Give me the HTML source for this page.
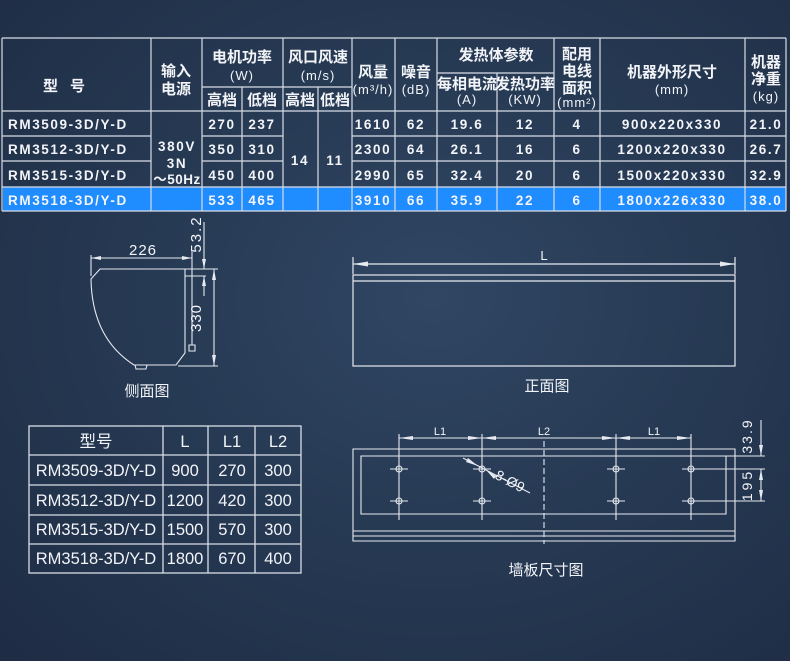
<!DOCTYPE html>
<html><head><meta charset="utf-8"><style>
html,body{margin:0;padding:0;width:790px;height:661px;overflow:hidden;
background:radial-gradient(ellipse at 55% 45%,#304663 0%,#273a54 45%,#1e2c44 100%);}
svg{display:block}
text{font-family:"Liberation Sans","Noto Sans CJK SC",sans-serif;fill:#f2f4f8}
.t{font-size:13.5px;letter-spacing:1.6px;font-weight:bold}
.h{font-size:15px;font-weight:bold}
.s{font-size:13px;letter-spacing:1px}
.l{font-size:16.5px}
.c{font-size:15px}
</style></head><body>
<svg width="790" height="661" viewBox="0 0 790 661" xmlns="http://www.w3.org/2000/svg">
<rect x="3" y="187" width="783" height="24" fill="#1f8cff"/>
<g stroke="#d8dde6" stroke-width="1.2" fill="none">
<line x1="2" y1="38" x2="786" y2="38"/>
<line x1="2" y1="38" x2="2" y2="211"/>
<line x1="786" y1="38" x2="786" y2="211"/>
<line x1="2" y1="211" x2="786" y2="211"/>
<line x1="2" y1="111" x2="786" y2="111"/>
<line x1="202" y1="87" x2="352" y2="87"/>
<line x1="437" y1="73" x2="554" y2="73"/>
<line x1="2" y1="136" x2="151" y2="136"/><line x1="202" y1="136" x2="283" y2="136"/><line x1="352" y1="136" x2="786" y2="136"/>
<line x1="2" y1="161" x2="151" y2="161"/><line x1="202" y1="161" x2="283" y2="161"/><line x1="352" y1="161" x2="786" y2="161"/>
<line x1="2" y1="187" x2="786" y2="187"/>
<line x1="151" y1="38" x2="151" y2="211"/>
<line x1="202" y1="38" x2="202" y2="211"/>
<line x1="242" y1="87" x2="242" y2="211"/>
<line x1="283" y1="38" x2="283" y2="211"/>
<line x1="318" y1="87" x2="318" y2="211"/>
<line x1="352" y1="38" x2="352" y2="211"/>
<line x1="395" y1="38" x2="395" y2="211"/>
<line x1="437" y1="38" x2="437" y2="211"/>
<line x1="497" y1="73" x2="497" y2="211"/>
<line x1="554" y1="38" x2="554" y2="211"/>
<line x1="600" y1="38" x2="600" y2="211"/>
<line x1="745" y1="38" x2="745" y2="211"/>
</g>
<g text-anchor="middle">
<text class="h" x="70" y="91" letter-spacing="12">型号</text>
<text class="h" x="176" y="76">输入</text><text class="h" x="176" y="94">电源</text>
<text class="h" x="242" y="62">电机功率</text><text class="s" x="242" y="80">(W)</text>
<text class="h" x="318" y="62">风口风速</text><text class="s" x="318" y="80">(m/s)</text>
<text class="h" x="373" y="77">风量</text><text class="s" x="373" y="94" letter-spacing="0">(m³/h)</text>
<text class="h" x="416" y="77">噪音</text><text class="s" x="416" y="94" letter-spacing="0">(dB)</text>
<text class="h" x="496" y="60">发热体参数</text>
<text class="h" x="467" y="89" font-size="14">每相电流</text><text class="s" x="467" y="104" font-size="12">(A)</text>
<text class="h" x="525" y="89" font-size="14">发热功率</text><text class="s" x="525" y="104" font-size="12">(KW)</text>
<text class="h" x="577" y="59">配用</text><text class="h" x="577" y="76">电线</text><text class="h" x="577" y="93">面积</text><text class="s" x="577" y="107" font-size="11" letter-spacing="0">(mm²)</text>
<text class="h" x="672" y="77">机器外形尺寸</text><text class="s" x="672" y="94">(mm)</text>
<text class="h" x="766" y="67">机器</text><text class="h" x="766" y="84">净重</text><text class="s" x="766" y="101" letter-spacing="0">(kg)</text>
<text class="h" x="222" y="105">高档</text><text class="h" x="262" y="105">低档</text>
<text class="h" x="300" y="105">高档</text><text class="h" x="335" y="105">低档</text>
</g>
<g class="t">
<text x="8" y="129">RM3509-3D/Y-D</text>
<text x="8" y="154">RM3512-3D/Y-D</text>
<text x="8" y="180">RM3515-3D/Y-D</text>
<text x="8" y="205">RM3518-3D/Y-D</text>
</g>
<g class="t" text-anchor="middle">
<text x="177" y="151">380V</text><text x="177" y="168">3N</text><text x="177" y="184" letter-spacing="0.5">～50Hz</text>
<text x="300" y="165">14</text><text x="335" y="165">11</text>
<text x="222" y="129">270</text><text x="262" y="129">237</text><text x="373" y="129">1610</text><text x="416" y="129">62</text><text x="467" y="129">19.6</text><text x="525" y="129">12</text><text x="577" y="129">4</text><text x="672" y="129">900x220x330</text><text x="766" y="129">21.0</text>
<text x="222" y="154">350</text><text x="262" y="154">310</text><text x="373" y="154">2300</text><text x="416" y="154">64</text><text x="467" y="154">26.1</text><text x="525" y="154">16</text><text x="577" y="154">6</text><text x="672" y="154">1200x220x330</text><text x="766" y="154">26.7</text>
<text x="222" y="180">450</text><text x="262" y="180">400</text><text x="373" y="180">2990</text><text x="416" y="180">65</text><text x="467" y="180">32.4</text><text x="525" y="180">20</text><text x="577" y="180">6</text><text x="672" y="180">1500x220x330</text><text x="766" y="180">32.9</text>
<text x="222" y="205">533</text><text x="262" y="205">465</text><text x="373" y="205">3910</text><text x="416" y="205">66</text><text x="467" y="205">35.9</text><text x="525" y="205">22</text><text x="577" y="205">6</text><text x="672" y="205">1800x226x330</text><text x="766" y="205">38.0</text>
</g>

<g stroke="#e6e9ef" stroke-width="1.1" fill="none">
<path d="M100,269 L185,269 L185,353 L176,365 L134,365 Q92,338 91,279 Z"/>
<path d="M135,365 L136,369 L146,369 L147,365"/>
<line x1="91" y1="255" x2="91" y2="276"/><line x1="192" y1="252" x2="192" y2="269"/>
<line x1="91" y1="258" x2="192" y2="258"/>
<line x1="192" y1="269" x2="192" y2="345"/>
<path d="M189,345 h6 v6 h-6 z"/>
<line x1="185" y1="276" x2="206" y2="276"/>
<line x1="185" y1="269" x2="218" y2="269"/>
<line x1="178" y1="366" x2="218" y2="366"/>
<line x1="214" y1="269" x2="214" y2="366"/>
<line x1="204" y1="222" x2="204" y2="269"/>
<line x1="204" y1="276" x2="204" y2="296"/>
</g>
<g fill="#e6e9ef">
<polygon points="91,258 101,256 101,260"/><polygon points="192,258 182,256 182,260"/>
<polygon points="214,269 212,280 216,280"/><polygon points="214,366 212,355 216,355"/>
<polygon points="204,269 202,259 206,259"/><polygon points="204,276 202,286 206,286"/>
</g>
<text class="c" x="143" y="255" text-anchor="middle" font-size="14" letter-spacing="1">226</text>
<text class="c" font-size="14" letter-spacing="1" transform="translate(201,318) rotate(-90)" text-anchor="middle">330</text>
<text class="c" font-size="14" letter-spacing="2" transform="translate(201,234) rotate(-90)" text-anchor="middle">53.2</text>
<text class="c" x="147" y="396" text-anchor="middle">侧面图</text>

<g stroke="#e6e9ef" stroke-width="1.2" fill="none">
<line x1="353" y1="257" x2="353" y2="274"/><line x1="735" y1="257" x2="735" y2="274"/>
<line x1="353" y1="264" x2="735" y2="264"/>
<rect x="353" y="275" width="382" height="91"/>
<line x1="353" y1="281" x2="735" y2="281"/>
</g>
<g fill="#e6e9ef"><polygon points="353,264 368,261.5 368,266.5"/><polygon points="735,264 720,261.5 720,266.5"/></g>
<text x="544" y="260" text-anchor="middle" font-size="13">L</text>
<text class="c" x="547" y="391" text-anchor="middle">正面图</text>

<g stroke="#d8dde6" stroke-width="1.3" fill="none">
<rect x="29" y="426" width="272" height="147"/>
<line x1="29" y1="455" x2="301" y2="455"/><line x1="29" y1="485" x2="301" y2="485"/>
<line x1="29" y1="515" x2="301" y2="515"/><line x1="29" y1="544" x2="301" y2="544"/>
<line x1="163" y1="426" x2="163" y2="573"/><line x1="208" y1="426" x2="208" y2="573"/><line x1="255" y1="426" x2="255" y2="573"/>
</g>
<g class="l" text-anchor="middle">
<text x="96" y="447">型号</text><text x="185" y="447">L</text><text x="232" y="447">L1</text><text x="278" y="447">L2</text>
<text x="96" y="476">RM3509-3D/Y-D</text><text x="185" y="476">900</text><text x="232" y="476">270</text><text x="278" y="476">300</text>
<text x="96" y="506">RM3512-3D/Y-D</text><text x="185" y="506">1200</text><text x="232" y="506">420</text><text x="278" y="506">300</text>
<text x="96" y="535">RM3515-3D/Y-D</text><text x="185" y="535">1500</text><text x="232" y="535">570</text><text x="278" y="535">300</text>
<text x="96" y="564">RM3518-3D/Y-D</text><text x="185" y="564">1800</text><text x="232" y="564">670</text><text x="278" y="564">400</text>
</g>

<g stroke="#e6e9ef" stroke-width="1.1" fill="none">
<path d="M353,449 H735 V541 H353 Z"/>
<line x1="353" y1="531" x2="735" y2="531"/><line x1="353" y1="536" x2="735" y2="536"/>
<path d="M361,456 H726 V514 H361 Z"/>
<line x1="726" y1="456" x2="765" y2="456"/>
<line x1="691" y1="469" x2="765" y2="469"/>
<line x1="691" y1="501" x2="765" y2="501"/>
<line x1="399" y1="434" x2="399" y2="520"/><line x1="482" y1="434" x2="482" y2="520"/>
<line x1="616" y1="434" x2="616" y2="520"/><line x1="691" y1="434" x2="691" y2="520"/>
<line x1="399" y1="438" x2="691" y2="438"/>
<line x1="544" y1="441" x2="544" y2="544" stroke-dasharray="6,3"/>
<line x1="761" y1="420" x2="761" y2="456"/>
<line x1="761" y1="469" x2="761" y2="501"/>
<line x1="463" y1="458" x2="530" y2="493"/>
<g>
<circle cx="399" cy="469" r="3"/><circle cx="482" cy="469" r="3"/><circle cx="616" cy="469" r="3"/><circle cx="691" cy="469" r="3"/>
<circle cx="399" cy="501" r="3"/><circle cx="482" cy="501" r="3"/><circle cx="616" cy="501" r="3"/><circle cx="691" cy="501" r="3"/>
<path d="M390,469h18M473,469h18M607,469h18M682,469h18M390,501h18M473,501h18M607,501h18M682,501h18"/>
</g>
</g>
<g fill="#e6e9ef">
<polygon points="399,438 413,436 413,440"/><polygon points="482,438 468,436 468,440"/>
<polygon points="482,438 496,436 496,440"/><polygon points="616,438 602,436 602,440"/>
<polygon points="616,438 630,436 630,440"/><polygon points="691,438 677,436 677,440"/>
<polygon points="761,456 759,445 763,445"/>
<polygon points="761,469 759,480 763,480"/><polygon points="761,501 759,490 763,490"/>
<polygon points="478,466 468,458 466,462"/><polygon points="486,470 496,476 494,479"/>
</g>
<text x="440" y="435" text-anchor="middle" font-size="11">L1</text>
<text x="544" y="435" text-anchor="middle" font-size="11">L2</text>
<text x="654" y="435" text-anchor="middle" font-size="11">L1</text>
<text font-size="14" transform="translate(494,478) rotate(28)">8-Ø9</text>
<text font-size="14" letter-spacing="2" transform="translate(752,436) rotate(-90)" text-anchor="middle">33.9</text>
<text font-size="14" letter-spacing="3" transform="translate(752,485) rotate(-90)" text-anchor="middle">195</text>
<text class="c" x="546" y="575" text-anchor="middle">墙板尺寸图</text>
</svg>
</body></html>
